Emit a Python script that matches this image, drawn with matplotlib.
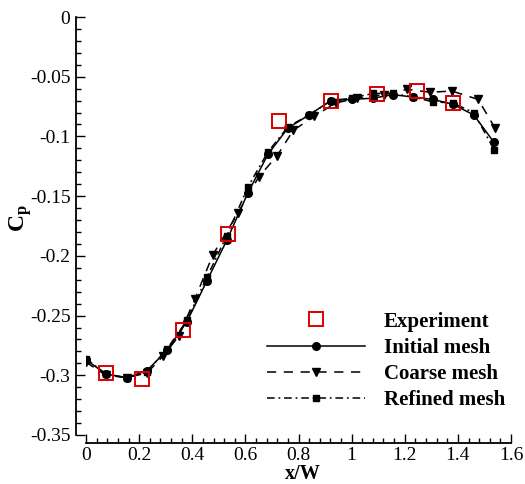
import numpy as np
import matplotlib
matplotlib.use('Agg')
import matplotlib.pyplot as plt
from matplotlib.ticker import MultipleLocator

plt.rcParams['font.family'] = ['Liberation Serif', 'DejaVu Serif']
plt.rcParams['mathtext.fontset'] = 'custom'
plt.rcParams['mathtext.rm'] = 'Liberation Serif'
plt.rcParams['mathtext.bf'] = 'Liberation Serif:bold'
plt.rcParams['axes.unicode_minus'] = False

# experiment
exp_x = [0.075, 0.211, 0.365, 0.535, 0.727, 0.922, 1.096, 1.246, 1.382]
exp_cp = [-0.298, -0.303, -0.262, -0.182, -0.087, -0.070, -0.0645, -0.062, -0.072]

# initial mesh
init_x = [0, 0.075, 0.154, 0.23, 0.305, 0.38, 0.455, 0.53, 0.61, 0.685, 0.76,
          0.84, 0.922, 1.0, 1.08, 1.155, 1.23, 1.306, 1.38, 1.46, 1.536]
init_cp = [-0.287, -0.299, -0.302, -0.296, -0.279, -0.255, -0.221, -0.187, -0.147,
           -0.115, -0.093, -0.082, -0.070, -0.069, -0.068, -0.065, -0.067, -0.069,
           -0.073, -0.082, -0.105]

# coarse mesh
coarse_x = [0, 0.075, 0.154, 0.23, 0.29, 0.35, 0.41, 0.478, 0.572, 0.65, 0.72,
            0.78, 0.86, 0.94, 1.02, 1.12, 1.21, 1.295, 1.378, 1.476, 1.54]
coarse_cp = [-0.289, -0.300, -0.302, -0.298, -0.284, -0.267, -0.236, -0.199, -0.164,
             -0.134, -0.116, -0.095, -0.083, -0.072, -0.068, -0.065, -0.0605, -0.063,
             -0.062, -0.069, -0.093]

# refined mesh
fine_x = [0, 0.075, 0.154, 0.23, 0.305, 0.38, 0.455, 0.53, 0.61, 0.685, 0.76,
          0.84, 0.922, 1.0, 1.08, 1.155, 1.23, 1.306, 1.38, 1.46, 1.536]
fine_cp = [-0.286, -0.299, -0.302, -0.297, -0.278, -0.254, -0.218, -0.183, -0.142,
           -0.113, -0.092, -0.082, -0.070, -0.068, -0.064, -0.064, -0.067, -0.071,
           -0.072, -0.080, -0.111]

xticks = [0, 0.2, 0.4, 0.6, 0.8, 1.0, 1.2, 1.4, 1.6]
xticklabels = ['0', '0.2', '0.4', '0.6', '0.8', '1', '1.2', '1.4', '1.6']
yticks = [-0.35, -0.3, -0.25, -0.2, -0.15, -0.1, -0.05, 0]
yticklabels = ['-0.35', '-0.3', '-0.25', '-0.2', '-0.15', '-0.1', '-0.05', '0']

fig = plt.figure(figsize=(5.25, 4.84), dpi=100)
ax = fig.add_axes([86 / 525, 1 - 435 / 484, 425 / 525, 418 / 484])

ax.plot(init_x, init_cp, color='black', lw=1.1, ls='-', marker='o', ms=5.5,
        label='Initial mesh')
ax.plot(coarse_x, coarse_cp, color='black', lw=1.1, dashes=(6, 5), marker='v', ms=6,
        label='Coarse mesh')
ax.plot(fine_x, fine_cp, color='black', lw=1.1, dashes=(5, 2.5, 1.2, 2.5), marker='s', ms=5,
        label='Refined mesh')
ax.plot(exp_x, exp_cp, ls='none', marker='s', ms=10, mfc='none', mec='#dd0000', mew=1.4,
        label='Experiment')

ax.set_xlim(0, 1.6)
ax.set_ylim(-0.35, 0)
ax.set_xticks(xticks)
ax.set_xticklabels(xticklabels)
ax.set_yticks(yticks)
ax.set_yticklabels(yticklabels)
ax.xaxis.set_minor_locator(MultipleLocator(0.04))
ax.yaxis.set_minor_locator(MultipleLocator(0.01))

ax.spines['top'].set_visible(False)
ax.spines['right'].set_visible(False)
ax.spines['left'].set_position(('outward', 7.2))
ax.spines['bottom'].set_position(('outward', 5.8))
ax.spines['left'].set_linewidth(1.3)
ax.spines['bottom'].set_linewidth(1.3)
ax.tick_params(which='both', direction='in', labelsize=14, width=1.0)
ax.tick_params(which='major', length=6.5)
ax.tick_params(which='minor', length=3.5)
ax.tick_params(axis='y', pad=4)
ax.tick_params(axis='x', pad=3)

ax.set_xlabel('x/W', fontsize=14.5, fontweight='bold', va='baseline')
ax.set_ylabel(r'$\mathbf{C_p}$', fontsize=17)
ax.xaxis.set_label_coords(0.51, -0.106)
ax.yaxis.set_label_coords(-0.123, 0.519)

h, l = ax.get_legend_handles_labels()
order = [3, 0, 1, 2]
leg = ax.legend([h[i] for i in order], [l[i] for i in order], loc='upper left',
                bbox_to_anchor=(0.426, 0.295), frameon=False, numpoints=1,
                handlelength=4.7, handletextpad=0.9, labelspacing=0.3,
                borderpad=0, borderaxespad=0, prop={'size': 15, 'weight': 'bold'})

fig.savefig('out.png', dpi=100)
